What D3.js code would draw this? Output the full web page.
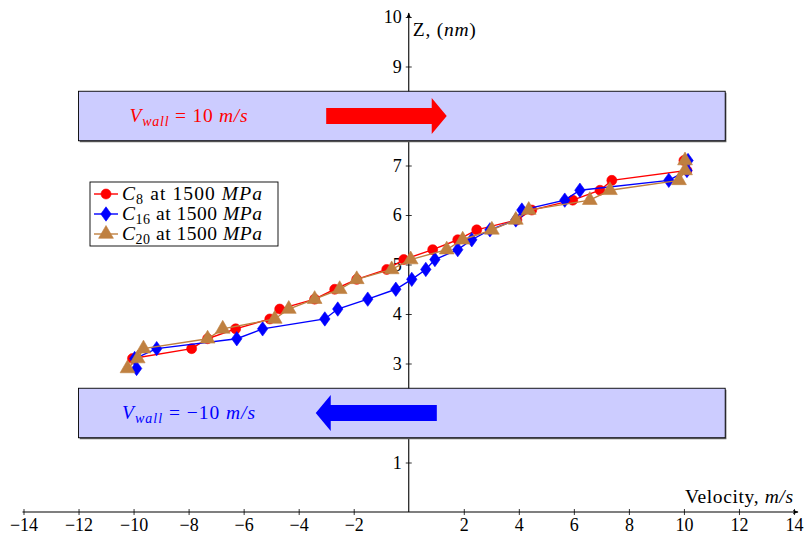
<!DOCTYPE html>
<html>
<head>
<meta charset="utf-8">
<script src="https://cdn.jsdelivr.net/npm/d3@7"></script>
<style>
  html, body { margin: 0; padding: 0; background: #fff; }
  svg { display: block; font-family: "Liberation Serif", "DejaVu Serif", serif; }
</style>
</head>
<body>
<svg id="chart" width="804" height="537"></svg>
<script>
// Height levels (nm) at which the velocity profile is sampled
const zC16 = [2.9, 3.1, 3.3, 3.5, 3.7, 3.9, 4.1, 4.3, 4.5, 4.7, 4.9, 5.1, 5.3, 5.5, 5.7, 5.9, 6.1, 6.3, 6.5, 6.7, 6.9, 7.1];
const zC8  = [3.1, 3.3, 3.5, 3.7, 3.9, 4.1, 4.3, 4.5, 4.7, 4.9, 5.1, 5.3, 5.5, 5.7, 5.9, 6.1, 6.3, 6.5, 6.7, 6.9, 7.1];
const zC20 = [2.9, 3.1, 3.3, 3.5, 3.7, 3.9, 4.1, 4.3, 4.5, 4.7, 4.9, 5.1, 5.3, 5.5, 5.7, 5.9, 6.1, 6.3, 6.5, 6.7, 6.9, 7.1];

// Streaming velocity (m/s) at each height
const vC8  = [-10.04, -7.89, -7.31, -6.29, -5.05, -4.69, -3.42, -2.69, -1.89, -0.80, -0.18, 0.87, 1.78, 2.47, 3.93, 4.47, 5.96, 6.95, 7.38, 10.11, 10.0];
const vC16 = [-9.89, -9.96, -9.16, -6.25, -5.31, -3.05, -2.58, -1.49, -0.47, 0.11, 0.62, 0.95, 1.78, 2.29, 2.95, 3.89, 4.11, 5.67, 6.22, 9.45, 10.11, 10.15];
const vC20 = [-10.22, -9.85, -9.64, -7.31, -6.76, -4.87, -4.36, -3.42, -2.51, -1.89, -0.62, 0.07, 1.38, 1.96, 3.02, 3.89, 4.36, 6.58, 7.31, 9.82, 10.04, 10.04];

// Axis ticks
const xTickValues = [-14, -12, -10, -8, -6, -4, -2, 2, 4, 6, 8, 10, 12, 14];
const yTickValues = [1, 2, 3, 4, 5, 6, 7, 8, 9, 10];

// Moving walls: z-extent of each wall slab and its velocity
const wallTop = { z0: 7.5, z1: 8.5, v: 10 };
const wallBottom = { z0: 1.5, z1: 2.5, v: -10 };
const wallXExtent = [-12, 11.5];

const seriesList = [
  { name: "8",  z: zC8,  v: vC8,  color: "#ff0000", mark: "circle" },
  { name: "16", z: zC16, v: vC16, color: "#0000ff", mark: "diamond" },
  { name: "20", z: zC20, v: vC20, color: "#bf8040", mark: "triangle" }
];

const svg = d3.select("#chart");
const x = d3.scaleLinear().domain([-14, 14]).range([23.5, 794]);
const y = d3.scaleLinear().domain([0, 10]).range([512, 17]);

const FS = 18;     // tick labels
const LFS = 19.5;  // titles, legend and wall annotations

// arrowhead for axes
const defs = svg.append("defs");
defs.append("marker")
  .attr("id", "axisArrow")
  .attr("viewBox", "0 0 10 10")
  .attr("refX", 9).attr("refY", 5)
  .attr("markerWidth", 6).attr("markerHeight", 6)
  .attr("markerUnits", "userSpaceOnUse")
  .attr("orient", "auto")
  .append("path")
  .attr("d", "M0,1 Q4,5 0,9 L10,5 Z")
  .attr("fill", "#000");

// x axis
const xAxis = d3.axisBottom(x).tickValues(xTickValues).tickSize(0).tickFormat(d => d < 0 ? "\u2212" + Math.abs(d) : d);
const gx = svg.append("g").attr("transform", `translate(0,${y(0)})`).call(xAxis);
gx.select(".domain").remove();
gx.selectAll(".tick line").attr("y1", -3).attr("y2", 3).attr("stroke", "#000").attr("stroke-width", 0.8);
gx.selectAll(".tick text").attr("y", 19).attr("dy", 0).attr("font-size", FS)
  .attr("font-family", "Liberation Serif").attr("fill", "#000");
svg.append("line")
  .attr("x1", x(-14) - 1).attr("x2", x(14) + 4)
  .attr("y1", y(0)).attr("y2", y(0))
  .attr("stroke", "#000").attr("stroke-width", 1.1)
  .attr("marker-end", "url(#axisArrow)");

// y axis
const yAxis = d3.axisLeft(y).tickValues(yTickValues).tickSize(0);
const gy = svg.append("g").attr("transform", `translate(${x(0)},0)`).call(yAxis);
gy.select(".domain").remove();
gy.selectAll(".tick line").attr("x1", -3).attr("x2", 3).attr("stroke", "#000").attr("stroke-width", 0.8);
gy.selectAll(".tick text").attr("x", -7).attr("dy", "0.32em").attr("font-size", FS)
  .attr("font-family", "Liberation Serif").attr("fill", "#000");
svg.append("line")
  .attr("x1", x(0)).attr("x2", x(0))
  .attr("y1", y(0)).attr("y2", y(10) - 4)
  .attr("stroke", "#000").attr("stroke-width", 1.1)
  .attr("marker-end", "url(#axisArrow)");

// axis titles
const yTitle = svg.append("text").attr("x", x(0) + 4).attr("y", 36).attr("font-size", LFS).attr("fill", "#000")
  .attr("textLength", 63).attr("lengthAdjust", "spacing");
yTitle.append("tspan").text("Z, (");
yTitle.append("tspan").attr("font-style", "italic").text("nm");
yTitle.append("tspan").text(")");

const xTitle = svg.append("text").attr("x", 685).attr("y", 503).attr("font-size", LFS).attr("fill", "#000")
  .attr("textLength", 108).attr("lengthAdjust", "spacing");
xTitle.append("tspan").text("Velocity, ");
xTitle.append("tspan").attr("font-style", "italic").text("m/s");

// wall slabs with their velocity arrows
function drawWall(w, color, textWidth) {
  const g = svg.append("g");
  const x0 = x(wallXExtent[0]), x1 = x(wallXExtent[1]);
  const yTop = y(w.z1), yBot = y(w.z0);
  g.append("rect")
    .attr("x", x0 + 1.2).attr("y", yTop + 1.5)
    .attr("width", x1 - x0).attr("height", yBot - yTop)
    .attr("fill", "#666");
  g.append("rect")
    .attr("x", x0).attr("y", yTop)
    .attr("width", x1 - x0).attr("height", yBot - yTop)
    .attr("fill", "#ccccff").attr("stroke", "#000").attr("stroke-width", 0.9);

  const zc = (w.z0 + w.z1) / 2, yc = y(zc);
  // arrow: body starts at tail, head ends at tip
  const dir = Math.sign(w.v);
  const tail = dir > 0 ? x(-3) : x(1.02);
  const tip = dir > 0 ? x(1.38) : x(-3.38);
  const headBase = tip - dir * 15;
  const bh = 8, hh = 18;
  const pts = [
    [tail, yc - bh], [headBase, yc - bh], [headBase, yc - hh], [tip, yc],
    [headBase, yc + hh], [headBase, yc + bh], [tail, yc + bh]
  ];
  g.append("path").attr("d", d3.line()(pts) + "Z").attr("fill", color).attr("stroke", "none");

  const t = g.append("text").attr("x", x(-8) - textWidth / 2).attr("y", yc + 6)
    .attr("font-size", LFS).attr("fill", color)
    .attr("textLength", textWidth).attr("lengthAdjust", "spacing");
  t.append("tspan").attr("font-style", "italic").text("V");
  t.append("tspan").attr("font-style", "italic").attr("font-size", 14).attr("dy", 4).text("wall");
  t.append("tspan").attr("dy", -4).text(" = " + (w.v < 0 ? "\u2212" : "") + Math.abs(w.v) + " ");
  t.append("tspan").attr("font-style", "italic").text("m/s");
}
drawWall(wallTop, "#ff0000", 118);
drawWall(wallBottom, "#0000ff", 133);

// marker shapes
function markPath(kind) {
  if (kind === "diamond") return "M0,-7.2 L5.2,0 L0,7.2 L-5.2,0 Z";
  if (kind === "triangle") return "M0,-8.5 L7.4,4.3 L-7.4,4.3 Z";
  return d3.symbol(d3.symbolCircle, Math.PI * 5 * 5)();
}

const line = d3.line().x(d => x(d[0])).y(d => y(d[1]));
seriesList.forEach(s => {
  const pts = s.v.map((v, i) => [v, s.z[i]]);
  svg.append("path").datum(pts)
    .attr("d", line).attr("fill", "none")
    .attr("stroke", s.color).attr("stroke-width", 1.4);
  svg.append("g").selectAll("path").data(pts).join("path")
    .attr("transform", d => `translate(${x(d[0])},${y(d[1])})`)
    .attr("d", markPath(s.mark))
    .attr("fill", s.color).attr("stroke", s.color).attr("stroke-width", 0.6);
});

// legend
const lg = svg.append("g").attr("transform", "translate(90,182)");
lg.append("rect").attr("width", 188).attr("height", 64)
  .attr("fill", "#fff").attr("stroke", "#000").attr("stroke-width", 0.9);
seriesList.forEach((s, i) => {
  const cy = 12 + i * 20;
  lg.append("line").attr("x1", 4).attr("x2", 28).attr("y1", cy).attr("y2", cy)
    .attr("stroke", s.color).attr("stroke-width", 1.4);
  lg.append("path").attr("transform", `translate(16,${cy})`).attr("d", markPath(s.mark))
    .attr("fill", s.color).attr("stroke", s.color).attr("stroke-width", 0.6);
  const t = lg.append("text").attr("x", 32).attr("y", cy + 6).attr("font-size", LFS).attr("fill", "#000")
    .attr("textLength", 140).attr("lengthAdjust", "spacing");
  t.append("tspan").attr("font-style", "italic").text("C");
  t.append("tspan").attr("font-size", 14).attr("dy", 4).text(s.name);
  t.append("tspan").attr("dy", -4).text(" at 1500 ");
  t.append("tspan").attr("font-style", "italic").text("MPa");
});
</script>
</body>
</html>
